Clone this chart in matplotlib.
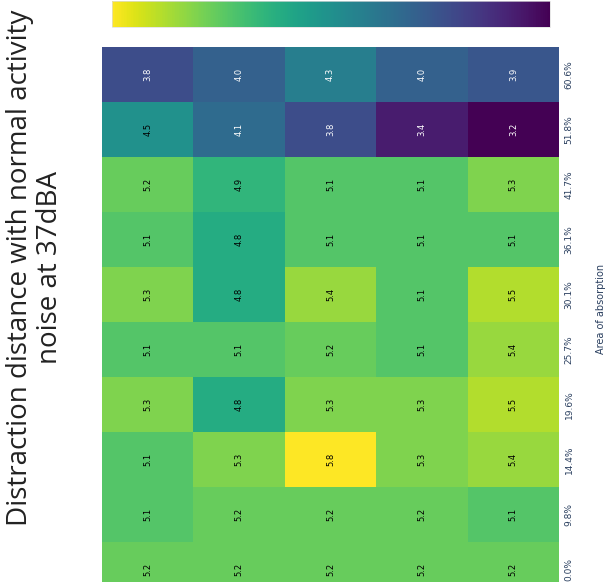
import numpy as np
import matplotlib
matplotlib.use("Agg")
import matplotlib.pyplot as plt
from matplotlib import colors

# Area of absorption levels (bottom to top)
areas = ["0.0%", "9.8%", "14.4%", "19.6%", "25.7%", "30.1%", "36.1%", "41.7%", "51.8%", "60.6%"]

# Distraction distance (m) per configuration, one list per absorption level
d_00 = [5.2, 5.2, 5.2, 5.2, 5.2]
d_98 = [5.1, 5.2, 5.2, 5.2, 5.1]
d_144 = [5.1, 5.3, 5.8, 5.3, 5.4]
d_196 = [5.3, 4.8, 5.3, 5.3, 5.5]
d_257 = [5.1, 5.1, 5.2, 5.1, 5.4]
d_301 = [5.3, 4.8, 5.4, 5.1, 5.5]
d_361 = [5.1, 4.8, 5.1, 5.1, 5.1]
d_417 = [5.2, 4.9, 5.1, 5.1, 5.3]
d_518 = [4.5, 4.1, 3.8, 3.4, 3.2]
d_606 = [3.8, 4.0, 4.3, 4.0, 3.9]

values = np.array([d_00, d_98, d_144, d_196, d_257, d_301, d_361, d_417, d_518, d_606])

W, H = 606, 582
fig = plt.figure(figsize=(W / 100, H / 100), dpi=100)

vmin, vmax = values.min(), values.max()
norm = colors.Normalize(vmin=vmin, vmax=vmax)
cmap = plt.get_cmap("viridis")

# Heatmap (drawn sideways: rows run bottom-to-top)
left, right, top, bottom = 102, 559, 47, 597
ax = fig.add_axes([left / W, (H - bottom) / H, (right - left) / W, (bottom - top) / H])
nrows, ncols = values.shape
ax.pcolormesh(np.arange(ncols + 1), np.arange(nrows + 1), values, cmap=cmap, norm=norm)
ax.set_xlim(0, ncols)
ax.set_ylim(0, nrows)
for s in ax.spines.values():
    s.set_visible(False)
ax.set_xticks([])
ax.yaxis.tick_right()
ax.set_yticks(np.arange(nrows) + 0.5)
ax.set_yticklabels(areas, rotation=90, va="center", fontsize=6.5, color="#2a3f5f")
ax.tick_params(axis="y", length=0, pad=4)

for i in range(nrows):
    for j in range(ncols):
        v = values[i, j]
        tc = "black" if norm(v) > 0.45 else "white"
        ax.text(j + 0.5, i + 0.5, f"{v:.1f}", rotation=90, ha="center", va="center",
                fontsize=6, color=tc)

# Axis title on the right edge
fig.text(601 / W, 1 - 309 / H, "Area of absorption", rotation=90, ha="center", va="center",
         fontsize=7, color="#2a3f5f")

# Horizontal colour bar along the top
cax = fig.add_axes([112 / W, (H - 27) / H, (550 - 112) / W, 26 / H])
cb = matplotlib.colorbar.ColorbarBase(cax, cmap=cmap, norm=norm, orientation="horizontal")
cb.set_ticks([])
cb.outline.set_linewidth(0.5)
cb.outline.set_edgecolor("#dddddd")
cax.invert_xaxis()

# Title, reading bottom to top
fig.text(35 / W, 1 - 268 / H, "Distraction distance with normal activity\nnoise at 37dBA",
         rotation=90, ha="center", va="center", fontsize=20, family="Open Sans",
         color="#222222", linespacing=1.1, multialignment="center")

fig.savefig("out.png", dpi=100)
